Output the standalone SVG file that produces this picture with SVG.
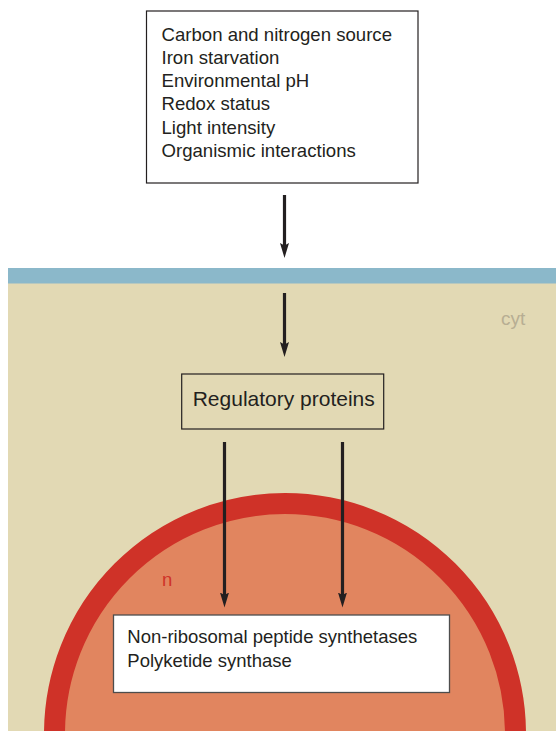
<svg xmlns="http://www.w3.org/2000/svg" width="556" height="731" viewBox="0 0 556 731">
  <style>
    .lbl { font-family: "Liberation Sans", Arial, sans-serif; fill: #231f20; }
    .box { stroke: #231f20; stroke-width: 1.2; }
    .conn { stroke: #231f20; stroke-width: 3.2; fill: none; marker-end: url(#head); }
  </style>
  <defs>
    <marker id="head" markerUnits="userSpaceOnUse" markerWidth="16" markerHeight="10" refX="5" refY="4.5" orient="auto" viewBox="0 0 16 10">
      <path d="M0,0 L15,4.5 L0,9 L2.5,4.5 z" fill="#231f20"/>
    </marker>
  </defs>

  <rect x="0" y="0" width="556" height="731" fill="#ffffff"/>

  <!-- cell: membrane and cytoplasm -->
  <g id="cell">
    <rect x="8" y="283" width="548" height="448" fill="#e2d9b4"/>
    <rect x="8" y="268" width="548" height="15.5" fill="#8bb8ca"/>
    <text x="501" y="325" font-family="Liberation Sans, Arial, sans-serif" font-size="19" fill="#b7ae93">cyt</text>
  </g>

  <!-- nucleus -->
  <g id="nucleus">
    <circle cx="285" cy="734" r="230.5" fill="#e1855f" stroke="#cf3228" stroke-width="21"/>
    <text x="162" y="586" font-family="Liberation Sans, Arial, sans-serif" font-size="18.5" fill="#cf3228">n</text>
  </g>

  <!-- environmental signals -->
  <g id="signals">
    <rect class="box" x="146.5" y="11" width="271.5" height="172" fill="#ffffff"/>
    <text class="lbl" font-size="18.6">
      <tspan x="161.5" y="40.7">Carbon and nitrogen source</tspan>
      <tspan x="161.5" y="63.9">Iron starvation</tspan>
      <tspan x="161.5" y="87.1">Environmental pH</tspan>
      <tspan x="161.5" y="110.3">Redox status</tspan>
      <tspan x="161.5" y="133.5">Light intensity</tspan>
      <tspan x="161.5" y="156.7">Organismic interactions</tspan>
    </text>
  </g>

  <!-- regulators -->
  <g id="regulators">
    <rect class="box" x="181.7" y="374" width="202" height="55" fill="none"/>
    <text class="lbl" x="192.7" y="405.7" font-size="21">Regulatory proteins</text>
  </g>

  <!-- biosynthetic enzymes -->
  <g id="enzymes">
    <rect x="113.5" y="615" width="336" height="77.5" fill="#ffffff" stroke="#4d4d4d" stroke-width="1.3"/>
    <text class="lbl" font-size="18.5">
      <tspan x="127.3" y="643.3">Non-ribosomal peptide synthetases</tspan>
      <tspan x="127.3" y="666.6">Polyketide synthase</tspan>
    </text>
  </g>

  <!-- connectors -->
  <g id="connectors">
    <line class="conn" x1="284.5" y1="195" x2="284.5" y2="248"/>
    <line class="conn" x1="284.5" y1="293" x2="284.5" y2="347"/>
    <line class="conn" x1="224.5" y1="442" x2="224.5" y2="597.5"/>
    <line class="conn" x1="342.5" y1="442" x2="342.5" y2="597.5"/>
  </g>
</svg>
